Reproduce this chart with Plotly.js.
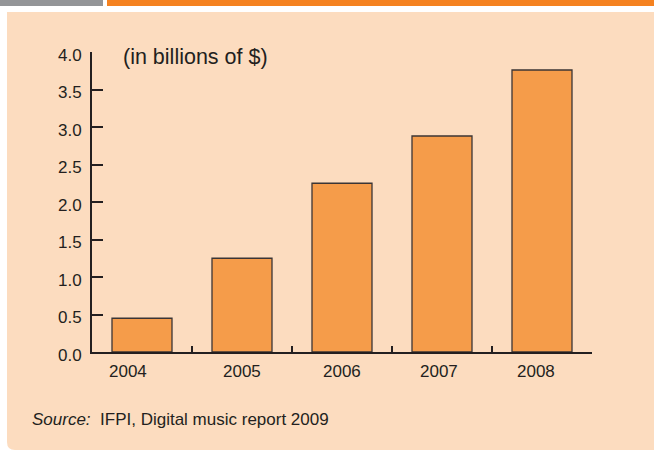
<!DOCTYPE html>
<html>
<head>
<meta charset="utf-8">
<script src="https://cdn.plot.ly/plotly-3.0.1.min.js"></script>
<style>html,body{margin:0;padding:0;background:#FCDCBF;overflow:hidden;}#chart{width:654px;height:452px;}</style>
</head>
<body>
<div id="chart"></div>
<script>
const years = ["2004", "2005", "2006", "2007", "2008"];
const revenue = [0.45, 1.25, 2.25, 2.88, 3.76];
const yTicks = [0, 0.5, 1, 1.5, 2, 2.5, 3, 3.5, 4];
const unitLabel = "(in billions of $)";
const sourceLabel = "<i>Source:</i>  IFPI, Digital music report 2009";

// layout-only: horizontal nudges of the year labels as set in the original
const labelNudge = [-14, 0, 0, -3, -6];

const W = 654, H = 452;
const M = {l: 92, r: 62, t: 52, b: 100};
const pw = W - M.l - M.r, ph = H - M.t - M.b;
const px = x => (x - M.l) / pw;
const py = y => (H - M.b - y) / ph;

const rx = 8 / pw, ry = 8 / ph;
const cornerPath = `M ${px(7)},${py(450)+ry} Q ${px(7)},${py(450)} ${px(7)+rx},${py(450)} L ${px(7)},${py(450)} Z`;

const trace = {
  type: 'bar',
  x: years,
  y: revenue,
  width: 0.6,
  marker: {color: '#F59C4A', line: {color: '#3b3535', width: 1.3}},
  hoverinfo: 'skip'
};

const noLine = {width: 0};
// on a category axis, annotation x is the category's serial index
const yearLabels = years.map((yr, i) => ({
  text: yr, xref: 'x', yref: 'paper', x: i, y: py(371), xshift: labelNudge[i],
  xanchor: 'center', yanchor: 'middle', showarrow: false, font: {size: 17}
}));

const layout = {
  width: W, height: H,
  margin: M,
  paper_bgcolor: '#FCDCBF',
  plot_bgcolor: 'rgba(0,0,0,0)',
  showlegend: false,
  font: {family: 'Liberation Sans, Arial, sans-serif', color: '#231f20', size: 17},
  xaxis: {
    type: 'category',
    range: [-0.5, 4.5],
    showline: true, linecolor: '#231f20', linewidth: 2,
    ticks: 'inside', tickson: 'boundaries', ticklen: 6, tickwidth: 2, tickcolor: '#231f20',
    showgrid: false, zeroline: false,
    showticklabels: false,
    fixedrange: true
  },
  yaxis: {
    range: [0, 4],
    tickvals: yTicks,
    tickformat: '.1f',
    showline: true, linecolor: '#231f20', linewidth: 2,
    ticks: 'inside', ticklen: 11, tickwidth: 2, tickcolor: '#231f20',
    showgrid: false, zeroline: false,
    tickfont: {size: 17},
    ticklabelstandoff: 5,
    ticklabelshift: 3,
    fixedrange: true
  },
  shapes: [
    {type: 'rect', xref: 'paper', yref: 'paper', x0: px(-5), x1: px(700), y0: py(12), y1: py(-5), fillcolor: '#ffffff', line: noLine, layer: 'below'},
    {type: 'rect', xref: 'paper', yref: 'paper', x0: px(-5), x1: px(7), y0: py(460), y1: py(0), fillcolor: '#ffffff', line: noLine, layer: 'below'},
    {type: 'rect', xref: 'paper', yref: 'paper', x0: px(-5), x1: px(700), y0: py(460), y1: py(450), fillcolor: '#ffffff', line: noLine, layer: 'below'},
    {type: 'path', xref: 'paper', yref: 'paper', path: cornerPath, fillcolor: '#ffffff', line: noLine, layer: 'below'},
    {type: 'rect', xref: 'paper', yref: 'paper', x0: px(0), x1: px(103), y0: py(6), y1: py(0), fillcolor: '#939598', line: noLine, layer: 'below'},
    {type: 'rect', xref: 'paper', yref: 'paper', x0: px(107), x1: px(700), y0: py(6), y1: py(0), fillcolor: '#F58220', line: noLine, layer: 'below'}
  ],
  annotations: [
    {text: unitLabel, xref: 'paper', yref: 'paper', x: px(121), y: py(57), xanchor: 'left', yanchor: 'middle', showarrow: false, font: {size: 21.5}},
    {text: sourceLabel, xref: 'paper', yref: 'paper', x: px(30), y: py(419), xanchor: 'left', yanchor: 'middle', showarrow: false, font: {size: 17}}
  ].concat(yearLabels)
};

Plotly.newPlot('chart', [trace], layout, {displayModeBar: false, staticPlot: true});
</script>
</body>
</html>
